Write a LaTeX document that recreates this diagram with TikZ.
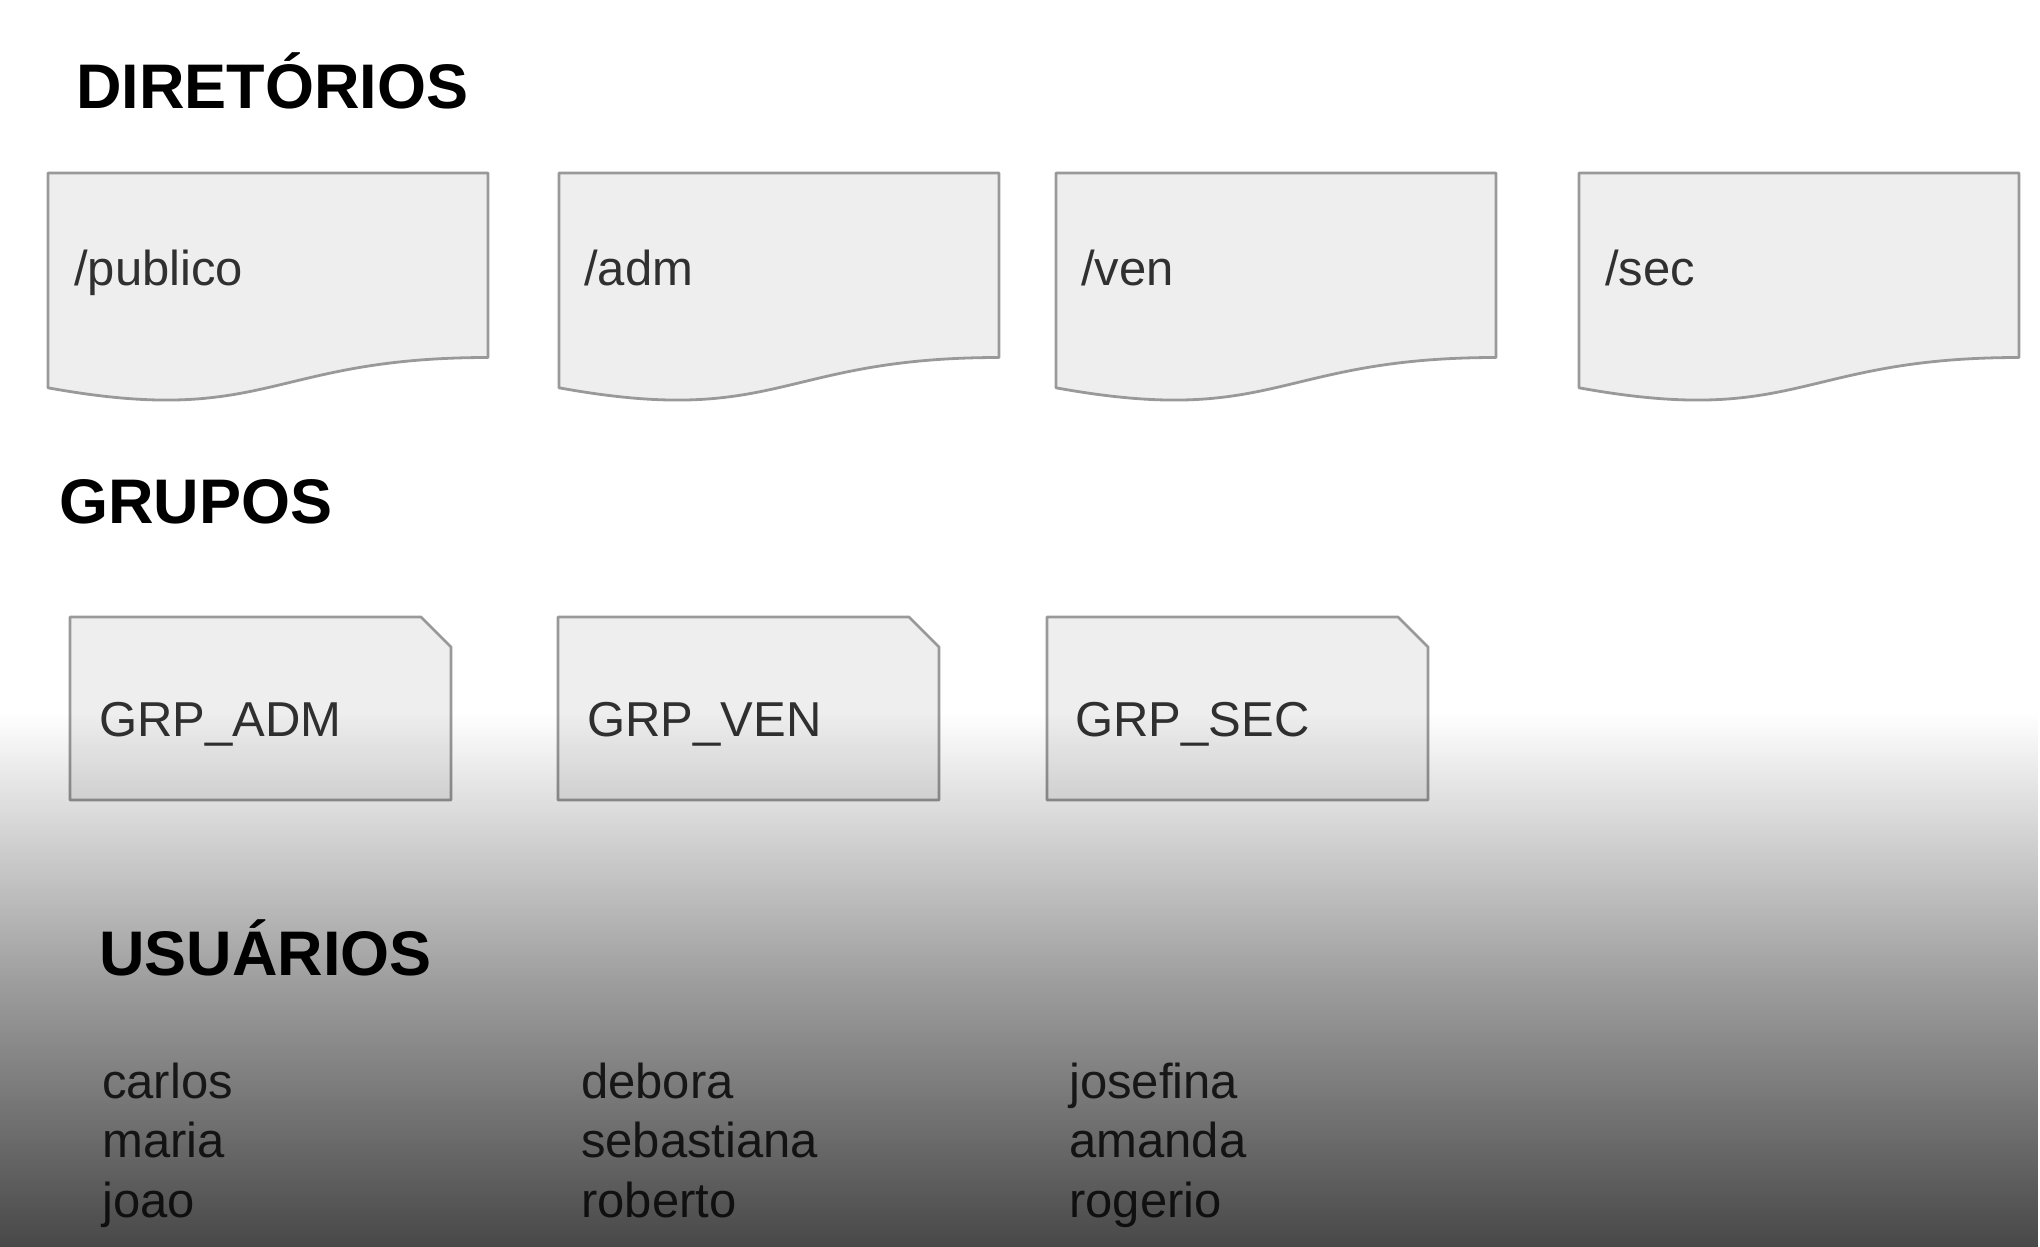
\documentclass[tikz,border=0pt]{standalone}
\usepackage{fontspec}
\setmainfont{Liberation Sans}
\usetikzlibrary{fadings}
\definecolor{boxfill}{HTML}{EEEEEE}
\definecolor{boxline}{HTML}{999999}
\definecolor{itemcolor}{HTML}{303030}
\tikzfading[name=ytfade, top color=transparent!100, bottom color=transparent!28, middle color=transparent!62]
\tikzset{
  titletext/.style={anchor=base west, inner sep=0pt, font=\fontsize{63}{76}\selectfont\bfseries, text=black},
  itemtext/.style={anchor=base west, inner sep=0pt, font=\fontsize{49}{59}\selectfont, text=itemcolor},
  shapebox/.style={fill=boxfill, draw=boxline, line width=2.8pt, line join=round},
  dirdoc/.pic={\path[shapebox] (0,0) -- (440,0) -- (440,184.5) .. controls (220,184.5) and (220,254.7) .. (0,214.8) -- cycle;},
  grpcard/.pic={\path[shapebox] (0,0) -- (351,0) -- (381,30) -- (381,183) -- (0,183) -- cycle;}
}
\begin{document}
\begin{tikzpicture}[x=1pt,y=-1pt]
\useasboundingbox (0,0) rectangle (2040,1247);
\fill[white] (0,0) rectangle (2040,1247);

% headings
\node[titletext] (hdir) at (76,108) {DIRETÓRIOS};
\node[titletext] (hgrp) at (59,523) {GRUPOS};
\node[titletext] (husr) at (99,975) {USUÁRIOS};

% directories
\pic (d1) at (48,173) {dirdoc};
\pic (d2) at (559,173) {dirdoc};
\pic (d3) at (1056,173) {dirdoc};
\pic (d4) at (1579,173) {dirdoc};
\node[itemtext] (tpub) at (74,285) {/publico};
\node[itemtext] (tadm) at (584,285) {/adm};
\node[itemtext] (tven) at (1081,285) {/ven};
\node[itemtext] (tsec) at (1605,285) {/sec};

% groups
\pic (g1) at (70,617) {grpcard};
\pic (g2) at (558,617) {grpcard};
\pic (g3) at (1047,617) {grpcard};
\node[itemtext] (gadm) at (99,736) {GRP\_ADM};
\node[itemtext] (gven) at (587,736) {GRP\_VEN};
\node[itemtext] (gsec) at (1075,736) {GRP\_SEC};

% users
\node[itemtext] (u1) at (102,1098) {carlos};
\node[itemtext] (u2) at (102,1157) {maria};
\node[itemtext] (u3) at (102,1217) {joao};
\node[itemtext] (u4) at (581,1098) {debora};
\node[itemtext] (u5) at (581,1157) {sebastiana};
\node[itemtext] (u6) at (581,1217) {roberto};
\node[itemtext] (u7) at (1069,1098) {josefina};
\node[itemtext] (u8) at (1069,1157) {amanda};
\node[itemtext] (u9) at (1069,1217) {rogerio};

% dark overlay at the bottom
\fill[black, path fading=ytfade] (0,713) rectangle (2040,1247);
\end{tikzpicture}
\end{document}
